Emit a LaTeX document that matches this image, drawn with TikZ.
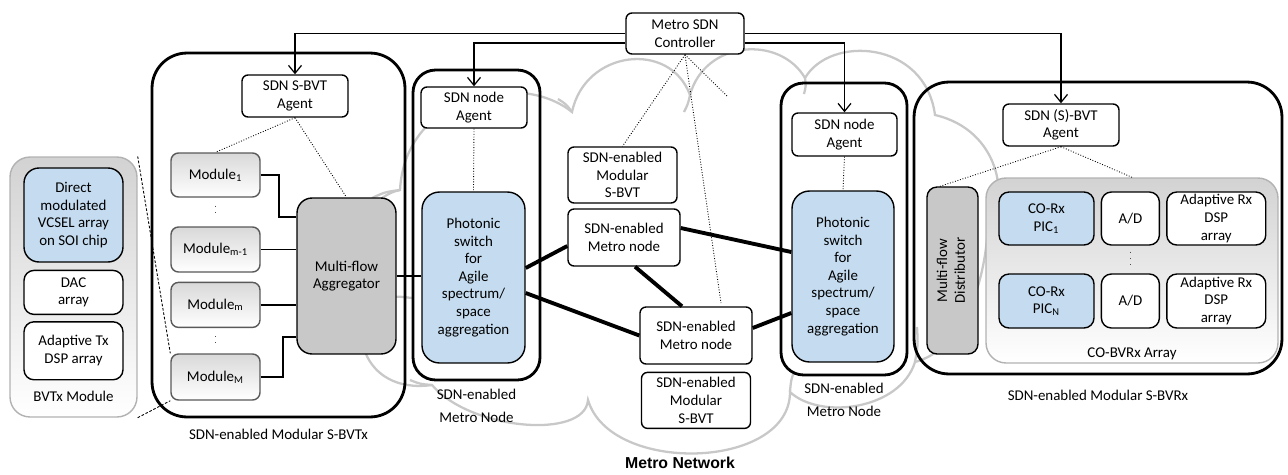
\documentclass[tikz,border=0pt]{standalone}
\usepackage{fontspec}
\setmainfont{Carlito}
\newfontfamily\netfont{Liberation Sans}
\usetikzlibrary{arrows.meta,positioning}
\definecolor{swblue}{HTML}{C5DCF0}
\definecolor{aggray}{HTML}{C8C8C8}
\definecolor{cloudgray}{HTML}{C8C8C8}
\tikzset{every picture/.style={line width=0.75pt}}
\tikzset{
  sz/.style 2 args={minimum width=#1, minimum height=#2},
  bigbox/.style={draw, line width=1.6pt, rounded corners=0.6cm, inner sep=0pt},
  box/.style={draw, fill=white, rounded corners=0.12cm, inner sep=0pt, align=center, line width=0.8pt},
  bluebox/.style={box, fill=swblue, rounded corners=0.35cm},
  graybox/.style={box, fill=aggray, rounded corners=0.3cm},
  modbox/.style={box, draw=gray!70!black, top color=gray!30, bottom color=white, rounded corners=0.15cm},
  tray/.style={draw=gray!60, line width=0.8pt, top color=gray!35, bottom color=white, rounded corners=0.4cm, inner sep=0pt},
  ctl/.style={-{Straight Barb[length=1.6mm,width=2.6mm]}, line width=0.7pt},
  lnk/.style={line width=1.1pt},
  trunk/.style={line width=2.2pt},
  sig/.style={densely dotted, line width=0.5pt},
  vdots/.style={line width=0.8pt, dash pattern=on 0.6pt off 3pt, gray!60!black},
  lbl/.style={align=center, inner sep=0pt},
  puff/.style={cloudgray, line width=1.3pt}
}

\begin{document}
\begin{tikzpicture}[x=0.02cm, y=-0.02cm, font=\fontsize{8.5}{10}\selectfont]
    \useasboundingbox (0,0) rectangle (1288,474);

    \draw[puff] (380,300) .. controls (345,290) and (350,200) .. (400,190)
        .. controls (405,95) and (520,70) .. (572,112)
        .. controls (585,50) and (670,40) .. (690,95)
        .. controls (705,40) and (780,35) .. (805,78)
        .. controls (830,35) and (925,40) .. (935,115)
        .. controls (1000,130) and (1010,200) .. (988,225)
        .. controls (985,290) and (960,350) .. (915,362)
        .. controls (900,410) and (820,420) .. (790,392)
        .. controls (790,470) and (610,475) .. (588,400)
        .. controls (585,440) and (470,430) .. (432,385)
        .. controls (360,395) and (345,320) .. cycle;
    \draw[puff] (400,190) .. controls (385,192) .. (372,198);
    \draw[puff] (572,112) .. controls (566,104) .. (558,99);
    \draw[puff] (690,95) .. controls (688,104) .. (684,112);
    \draw[puff] (805,78) .. controls (806,86) .. (804,94);
    \draw[puff] (915,362) .. controls (918,345) .. (917,327);
    \draw[puff] (790,392) .. controls (791,380) .. (794,372);
    \draw[puff] (432,385) .. controls (420,384) .. (410,380);
    \draw[puff] (380,300) .. controls (395,296) .. (412,298);

    \node[bigbox, sz={5.06cm}{7.28cm}, rounded corners=0.7cm] (tx) at (278.5,235) {};
    \node[bigbox, sz={2.54cm}{6.2cm}, rounded corners=0.45cm] (mn1) at (476.5,225) {};
    \node[bigbox, sz={2.52cm}{5.84cm}, rounded corners=0.45cm] (mn2) at (844,229) {};
    \node[bigbox, sz={7.36cm}{5.84cm}, rounded corners=0.7cm] (rx) at (1098,228) {};
    \node[tray, sz={2.54cm}{5.2cm}] (txm) at (73.5,287) {};
    \node[tray, sz={5.84cm}{3.7cm}] (arr) at (1132,270.5) {};

    \node[box, sz={2.36cm}{0.82cm}] (ctrl) at (685,33.5) {Metro SDN\\Controller};

    \node[bluebox, sz={1.98cm}{1.88cm}, rounded corners=0.3cm] (vcsel) at (73.5,215) {Direct\\modulated\\VCSEL array\\on SOI chip};
    \node[box, sz={1.98cm}{0.88cm}, rounded corners=0.2cm, below=0.14cm of vcsel] (dac) {DAC\\array};
    \node[box, sz={1.98cm}{1.16cm}, rounded corners=0.2cm, below=0.12cm of dac] (tdsp) {Adaptive Tx\\DSP array};
    \node[lbl, above=0.3cm of txm.south] (txml) {BVTx Module};

    \node[box, sz={2.12cm}{0.84cm}] (ag1) at (295,96) {SDN S-BVT\\Agent};
    \node[modbox, sz={1.78cm}{0.88cm}] (m1) at (215.5,175) {Module\textsubscript{1}};
    \node[modbox, sz={1.78cm}{0.9cm}] (m2) at (215.5,249.5) {Module\textsubscript{m-1}};
    \node[modbox, sz={1.78cm}{0.9cm}, below=0.18cm of m2] (m3) {Module\textsubscript{m}};
    \node[modbox, sz={1.78cm}{0.92cm}] (m4) at (215.5,377) {Module\textsubscript{M}};
    \node[graybox, sz={1.98cm}{3.12cm}] (agg) at (346.5,276) {Multi-flow\\Aggregator};
    \node[lbl, below=0.2cm of tx] (txl) {SDN-enabled Modular S-BVTx};

    \node[box, sz={2.12cm}{0.82cm}] (ag2) at (474,107.5) {SDN node\\Agent};
    \node[bluebox, sz={2.06cm}{3.42cm}] (sw1) at (473.5,277.5) {Photonic\\switch\\for\\Agile\\spectrum/\\space\\aggregation};
    \node[lbl, below=0.14cm of mn1] (mn1l) {SDN-enabled\\[3pt]Metro Node};

    \node[box, sz={2.18cm}{1.12cm}] (sb1) at (622.5,175) {SDN-enabled\\Modular\\S-BVT};
    \node[box, sz={2.24cm}{1.14cm}] (nd1) at (624,237.5) {SDN-enabled\\Metro node};
    \node[box, sz={2.24cm}{1.14cm}] (nd2) at (696,335.5) {SDN-enabled\\Metro node};
    \node[box, sz={2.18cm}{1.12cm}, below=0.14cm of nd2] (sb2) {SDN-enabled\\Modular\\S-BVT};
    \node[lbl, font=\netfont\bfseries\fontsize{9}{10}\selectfont] (net) at (680,463) {Metro Network};

    \node[box, sz={2.1cm}{0.86cm}] (ag3) at (844.5,134.5) {SDN node\\Agent};
    \node[bluebox, sz={2.04cm}{3.42cm}] (sw2) at (843,276.5) {Photonic\\switch\\for\\Agile\\spectrum/\\space\\aggregation};
    \node[lbl, below=0.12cm of mn2] (mn2l) {SDN-enabled\\[3pt]Metro Node};

    \node[box, sz={2.32cm}{0.84cm}] (ag4) at (1061,125) {SDN (S)-BVT\\Agent};
    \node[graybox, sz={1.02cm}{3.34cm}, rounded corners=0.2cm] (dist) at (952.5,270.5) {\rotatebox{90}{\begin{tabular}{@{}c@{}}Multi-flow\\Distributor\end{tabular}}};
    \node[bluebox, sz={1.9cm}{1.06cm}, rounded corners=0.2cm] (pic1) at (1046.5,218.5) {CO-Rx\\PIC\textsubscript{1}};
    \node[box, sz={1.16cm}{1.06cm}, rounded corners=0.2cm, right=0.12cm of pic1] (ad1) {A/D};
    \node[box, sz={1.98cm}{1.06cm}, rounded corners=0.2cm, right=0.12cm of ad1] (dsp1) {Adaptive Rx\\DSP\\array};
    \node[bluebox, sz={1.9cm}{1.08cm}, rounded corners=0.2cm] (pic2) at (1046.5,301) {CO-Rx\\PIC\textsubscript{N}};
    \node[box, sz={1.16cm}{1.08cm}, rounded corners=0.2cm, right=0.12cm of pic2] (ad2) {A/D};
    \node[box, sz={1.98cm}{1.08cm}, rounded corners=0.2cm, right=0.12cm of ad2] (dsp2) {Adaptive Rx\\DSP\\array};
    \node[lbl, above=0.06cm of arr.south] (arrl) {CO-BVRx Array};
    \node[lbl, below=0.28cm of rx] (rxl) {SDN-enabled Modular S-BVRx};

    \coordinate (c1) at (728,97);
    \coordinate (c2) at (721,303);

    \draw[ctl] (ctrl.west) -| (ag1.north);
    \draw[ctl] ([yshift=-0.19cm]ctrl.west) -| (ag2.north);
    \draw[ctl] (ctrl.east) -| (ag4.north);
    \draw[ctl] ([yshift=-0.19cm]ctrl.east) -| (ag3.north);
    \draw[sig] (ctrl.south) -- (sb1.north);
    \draw[sig] (ctrl.south) -- (c2);
    \draw[sig] (ctrl.south) -- (c1);
    \draw[sig] (ag1.south) -- (m1.north);
    \draw[sig] (ag1.south) -- (agg.north);
    \draw[sig] (ag2.south) -- (sw1.north);
    \draw[sig] (ag3.south) -- (sw2.north);
    \draw[sig] (ag4.south) -- ([xshift=-0.25cm]dist.north);
    \draw[sig] (ag4.south) -- (arr.north);
    \draw[sig, dash pattern=on 1.5pt off 1pt] (txm.north east) -- (m4.north west);
    \draw[sig, dash pattern=on 1.5pt off 1pt] (txm.south east) -- (m4.south west);

    \draw[lnk] (m1.east) -- ++(18,0) |- ([yshift=1.18cm]agg.west);
    \draw[lnk] (m2.east) -- (m2.east -| agg.west);
    \draw[lnk] (m3.east) -- (m3.east -| agg.west);
    \draw[lnk] (m4.east) -- ++(22,0) |- ([yshift=-1.22cm]agg.west);
    \draw[lnk] (agg.east) -- (agg.east -| sw1.west);
    \draw[vdots] ([yshift=-0.16cm]m1.south) -- ([yshift=0.16cm]m2.north);
    \draw[vdots] ([yshift=-0.16cm]m3.south) -- ([yshift=0.16cm]m4.north);
    \draw[vdots] ([yshift=-0.12cm]ad1.south) -- ([yshift=0.12cm]ad2.north);

    \draw[trunk] ([yshift=0.19cm]sw1.east) -- ([yshift=-0.17cm]nd1.west);
    \draw[trunk] ([yshift=-0.31cm]sw1.east) -- (nd2.west);
    \draw[trunk] ([xshift=0.22cm]nd1.south) -- ([xshift=-0.28cm]nd2.north);
    \draw[trunk] ([yshift=0.19cm]nd1.east) -- ([yshift=0.49cm]sw2.west);
    \draw[trunk] ([yshift=0.15cm]nd2.east) -- ([yshift=-0.73cm]sw2.west);
\end{tikzpicture}
\end{document}
